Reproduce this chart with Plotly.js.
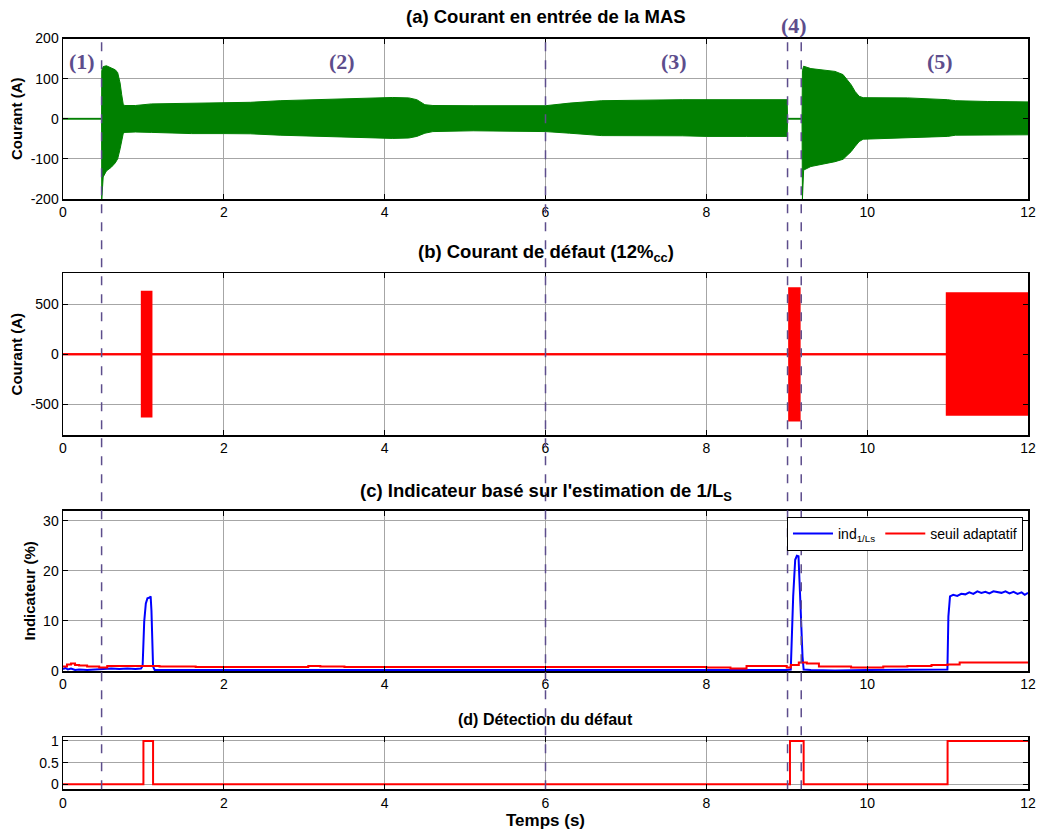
<!DOCTYPE html>
<html>
<head>
<meta charset="utf-8">
<script src="https://cdn.plot.ly/plotly-3.0.1.min.js"></script>
<style>html,body{margin:0;padding:0;background:#fff;}#chart{width:1040px;height:830px;}</style>
</head>
<body>
<div id="chart"></div>
<script>
// (a) input current envelope (A): time, upper and lower envelope of the 50 Hz current
var tA = [0, 0.48, 0.482, 0.49, 0.5, 0.54, 0.6, 0.65, 0.68, 0.71, 0.73, 0.75, 0.77, 0.9, 1.1, 1.6, 2.0, 2.33, 2.7, 3.24, 3.75, 4.1, 4.3, 4.4, 4.5, 4.6, 5.1, 6.0, 6.3, 6.7, 7.7, 8.0, 8.5, 9.0, 9.005, 9.01, 9.18, 9.19, 9.195, 9.21, 9.3, 9.5, 9.6, 9.7, 9.8, 9.85, 9.9, 9.95, 10.5, 11.0, 11.1, 11.5, 12];
var upA = [1, 1, 120, 128, 130, 132, 126, 122, 115, 89, 60, 35, 33, 33, 37, 39, 41, 41, 45, 47.5, 50, 53, 52, 47.5, 35, 33, 32.5, 32.5, 39, 45, 47.5, 47.5, 47.5, 47.5, 47.5, 1, 1, 1, 120, 131, 125, 121, 118, 110, 85, 68, 56, 52.5, 52, 47.5, 45, 43, 42];
var loA = [-1, -1, -200, -150, -145, -130, -121, -110, -100, -75, -50, -36, -34, -33, -34, -37, -37, -37.5, -41, -44, -47, -49, -48, -44, -36, -32, -30, -32, -36, -42, -42.5, -44, -44, -44, -44, -1, -1, -1, -200, -128, -119, -111, -107, -101, -82, -69, -57, -51, -48, -44, -41, -41, -40];

// (b) fault current envelope (A)
var tB  = [0, 0.98, 0.98, 1.10, 1.10, 9.03, 9.03, 9.16, 9.16, 10.99, 10.99, 12];
var upB = [0, 0, 626, 626, 0, 0, 660, 660, 0, 0, 610, 610];
var loB = [0, 0, -624, -624, 0, 0, -664, -664, 0, 0, -607, -607];

// (c) indicator based on 1/Ls estimation (%)
var tI = [0, 0.03, 0.06, 0.1, 0.15, 0.2, 0.3, 0.4, 0.5, 0.6, 0.7, 0.8, 0.9, 0.97, 0.99, 1.0, 1.01, 1.03, 1.05, 1.08, 1.09, 1.1, 1.11, 1.12, 1.14, 1.2, 1.5, 2.0, 2.5, 3.0, 3.5, 4.0, 4.5, 5.0, 5.5, 6.0, 6.5, 7.0, 7.5, 8.0, 8.5, 9.0, 9.05, 9.06, 9.08, 9.105, 9.126, 9.146, 9.159, 9.175, 9.196, 9.21, 9.3, 9.6, 10.0, 10.5, 10.8, 10.998, 11.01, 11.03, 11.07, 11.12, 11.17, 11.22, 11.27, 11.32, 11.37, 11.42, 11.47, 11.52, 11.57, 11.62, 11.67, 11.72, 11.77, 11.82, 11.87, 11.92, 11.96, 12];
var ind = [0.4, 0.6, 0.3, 0.5, 0.2, 0.3, 0.2, 0.3, 0.3, 0.5, 0.4, 0.5, 0.4, 0.5, 1.0, 6.2, 9.9, 13.5, 14.5, 14.7, 14.9, 12.0, 5.5, 0.9, 0.2, 0.2, 0.2, 0.1, 0.2, 0.1, 0.2, 0.1, 0.2, 0.1, 0.2, 0.1, 0.2, 0.1, 0.2, 0.2, 0.1, 0.2, 0.3, 5.5, 14.9, 22.2, 23.0, 22.9, 18.9, 11.5, 2.9, 0.3, 0.2, 0.1, 0.2, 0.2, 0.3, 0.3, 10.9, 14.9, 15.2, 15.0, 15.4, 15.3, 15.7, 15.4, 15.9, 15.6, 15.8, 15.5, 15.9, 15.7, 15.6, 15.9, 15.5, 15.8, 15.4, 15.7, 15.2, 15.6];

// (c) adaptive threshold (%)
var tS = [0, 0.05, 0.1, 0.15, 0.2, 0.3, 0.45, 0.5, 0.55, 0.8, 1.0, 1.15, 1.2, 1.5, 1.65, 2.0, 2.5, 3.0, 3.05, 3.2, 3.5, 4.0, 4.5, 5.0, 5.5, 6.0, 6.5, 7.0, 7.5, 8.0, 8.3, 8.5, 8.8, 9.0, 9.05, 9.15, 9.25, 9.4, 9.8, 10.0, 10.2, 10.5, 10.8, 11.0, 11.15, 12];
var seuil = [0.9, 1.3, 1.5, 1.2, 1.1, 0.9, 0.7, 0.7, 1.0, 1.0, 1.0, 1.0, 0.9, 0.9, 0.8, 0.8, 0.8, 0.8, 1.0, 0.9, 0.8, 0.8, 0.8, 0.8, 0.8, 0.8, 0.8, 0.8, 0.8, 0.7, 0.5, 1.0, 1.0, 0.7, 1.2, 1.7, 1.5, 0.9, 0.7, 0.7, 0.9, 1.0, 1.2, 1.3, 1.7, 1.7];

// (d) fault detection flag
var tD = [0, 1.0, 1.0, 1.12, 1.12, 9.04, 9.04, 9.21, 9.21, 11.0, 11.0, 12];
var det = [0, 0, 1, 1, 0, 0, 1, 1, 0, 0, 1, 1];

// phase boundaries (s) and phase labels
var phaseBounds = [0.48, 6.0, 9.01, 9.18];
var phaseLabels = ['(1)', '(2)', '(3)', '(4)', '(5)'];
var phaseLabelX = [0.236, 3.47, 7.6, 9.09, 10.91];
var phaseLabelRow = [0, 0, 0, 1, 0];

var titles = ['(a) Courant en entrée de la MAS', '(b) Courant de défaut (12%<sub>cc</sub>)', "(c) Indicateur basé sur l'estimation de 1/L<sub>S</sub>", '(d) Détection du défaut'];

var H = 830;
function py(px){ return 1 - px / H; }

var GREEN = '#008000', RED = '#ff0000', BLUE = '#0000ff', PURPLE = '#5d4d8c';
var FONT = 'Arial, "Liberation Sans", sans-serif';

var traces = [
  {x: tA, y: loA, xaxis: 'x', yaxis: 'y', mode: 'lines', line: {color: GREEN, width: 1}, showlegend: false, hoverinfo: 'skip'},
  {x: tA, y: upA, xaxis: 'x', yaxis: 'y', mode: 'lines', line: {color: GREEN, width: 1}, fill: 'tonexty', fillcolor: GREEN, showlegend: false},
  {x: tB, y: loB, xaxis: 'x2', yaxis: 'y2', mode: 'lines', line: {color: RED, width: 2}, showlegend: false, hoverinfo: 'skip'},
  {x: tB, y: upB, xaxis: 'x2', yaxis: 'y2', mode: 'lines', line: {color: RED, width: 2}, fill: 'tonexty', fillcolor: RED, showlegend: false},
  {x: tI, y: ind, xaxis: 'x3', yaxis: 'y3', mode: 'lines', name: 'ind<sub>1/Ls</sub>', line: {color: BLUE, width: 2}},
  {x: tS, y: seuil, xaxis: 'x3', yaxis: 'y3', mode: 'lines', name: 'seuil adaptatif', line: {color: RED, width: 2, shape: 'hv'}},
  {x: tD, y: det, xaxis: 'x4', yaxis: 'y4', mode: 'lines', line: {color: RED, width: 2}, showlegend: false}
];

function xax(anchor, title){
  var a = {anchor: anchor, domain: [0, 1], range: [0, 12], tickvals: [0,2,4,6,8,10,12], ticktext: ['0','2','4','6','8','10','12'],
    showgrid: true, gridcolor: '#a6a6a6', gridwidth: 1, zeroline: false, showline: true, linecolor: '#000', linewidth: 1.5, mirror: 'ticks',
    ticks: 'inside', ticklen: 5, tickcolor: '#000', tickfont: {family: FONT, size: 14, color: '#000'}};
  if (title) a.title = {text: title, font: {family: FONT, size: 17, color: '#000', weight: 'bold'}, standoff: 6};
  return a;
}
function yax(anchor, dom, range, tv, tt, title){
  var a = {anchor: anchor, domain: dom, range: range, tickvals: tv, ticktext: tt,
    showgrid: true, gridcolor: '#a6a6a6', gridwidth: 1, zeroline: false, showline: true, linecolor: '#000', linewidth: 1.5, mirror: 'ticks',
    ticks: 'inside', ticklen: 5, tickcolor: '#000', tickfont: {family: FONT, size: 14, color: '#000'}};
  if (title) a.title = {text: title, font: {family: FONT, size: 15, color: '#000', weight: 'bold'}, standoff: 4};
  return a;
}

var layout = {
  width: 1040, height: 830,
  margin: {l: 63, r: 12, t: 0, b: 0},
  paper_bgcolor: '#fff', plot_bgcolor: '#fff',
  font: {family: FONT, color: '#000'},
  showlegend: true,
  legend: {orientation: 'h', traceorder: 'normal', x: 0.9948, xanchor: 'right', y: py(517), yanchor: 'top', bgcolor: '#fff', bordercolor: '#000', borderwidth: 1,
           font: {family: FONT, size: 14, color: '#000'}, itemwidth: 40, tracegroupgap: 0},
  xaxis: xax('y'),
  xaxis2: xax('y2'),
  xaxis3: xax('y3'),
  xaxis4: xax('y4', 'Temps (s)'),
  yaxis: yax('x', [py(199), py(38.5)], [-200, 200], [-200,-100,0,100,200], ['-200','-100','0','100','200'], 'Courant (A)'),
  yaxis2: yax('x2', [py(435), py(273.3)], [-810, 810], [-500,0,500], ['-500','0','500'], 'Courant (A)'),
  yaxis3: yax('x3', [py(671), py(510.7)], [0, 32], [0,10,20,30], ['0','10','20','30'], 'Indicateur (%)'),
  yaxis4: yax('x4', [py(789.3), py(737.3)], [-0.115, 1.085], [0,0.5,1], ['0','0.5','1']),
  shapes: phaseBounds.map(function(b){
    return {type: 'line', xref: 'x', yref: 'paper', x0: b, x1: b, y0: py(789.3), y1: py(38.5), layer: 'above',
            line: {color: PURPLE, width: 1.5, dash: 'dash'}};
  }),
  annotations: []
};

var titleY = [17, 253, 492, 719];
var titleSize = [18.5, 18.5, 18.5, 16];
titles.forEach(function(t, i){
  layout.annotations.push({text: t, xref: 'paper', yref: 'paper', x: 0.5, y: py(titleY[i]), xanchor: 'center', yanchor: 'middle',
    showarrow: false, font: {family: FONT, size: titleSize[i], color: '#000', weight: 'bold'}});
});
var labelRowY = [62, 26];
phaseLabels.forEach(function(t, i){
  layout.annotations.push({text: '<b>' + t + '</b>', xref: 'x', yref: 'paper', x: phaseLabelX[i], y: py(labelRowY[phaseLabelRow[i]]),
    xanchor: 'center', yanchor: 'middle', showarrow: false,
    font: {family: '"Liberation Serif", "Times New Roman", serif', size: 22, color: PURPLE}});
});

Plotly.newPlot('chart', traces, layout, {displayModeBar: false, staticPlot: true});
</script>
</body>
</html>
